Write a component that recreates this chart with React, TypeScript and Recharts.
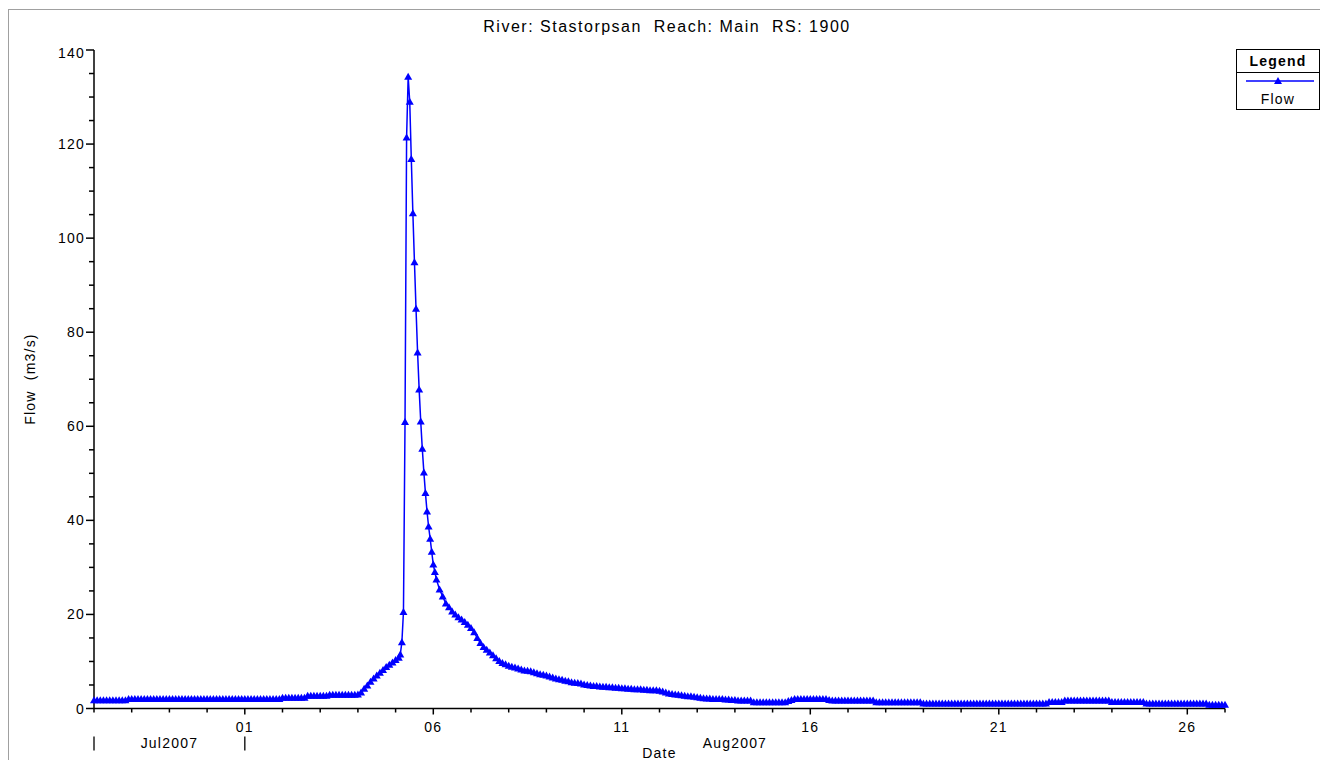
import React from 'react'
import { LineChart, Line, XAxis, YAxis, Legend } from 'recharts'

// Flow at RS 1900, hours counted from 28 Jul 2007 00:00
// every 2 h, 28 Jul 00:00 -> 5 Aug 02:00
const riseFlow = [
    1.75, 1.75, 1.75, 1.75, 1.75, 1.75, 1.75, 1.75, 1.75, 1.75, 1.75, 2.0,
    2.0, 2.0, 2.0, 2.0, 2.0, 2.0, 2.0, 2.0, 2.0, 2.0, 2.0, 2.0,
    2.0, 2.0, 2.0, 2.0, 2.0, 2.0, 2.0, 2.0, 2.0, 2.0, 2.0, 2.0,
    2.0, 2.0, 2.0, 2.0, 2.0, 2.0, 2.0, 2.0, 2.0, 2.0, 2.0, 2.0,
    2.0, 2.0, 2.0, 2.0, 2.0, 2.0, 2.0, 2.0, 2.0, 2.0, 2.0, 2.0,
    2.3, 2.3, 2.3, 2.3, 2.3, 2.3, 2.3, 2.3, 2.7, 2.7, 2.7, 2.7,
    2.7, 2.7, 2.7, 2.9, 2.9, 2.9, 2.9, 2.9, 2.9, 2.9, 2.9, 2.9,
    3.0, 3.4, 4.2, 4.9, 5.7, 6.4, 7.0, 7.6, 8.2, 8.8, 9.3, 9.8,
    10.3, 10.8,
]

// hourly, 5 Aug 03:00 -> 6 Aug 01:00
const peakFlow = [
    11.5, 14.1, 20.5, 60.9, 121.4, 134.3, 129.0, 116.8, 105.3, 94.9, 85.0, 75.7,
    67.8, 61.0, 55.2, 50.2, 45.8, 41.9, 38.7, 36.1, 33.3, 30.6, 29.0,
]

// every 2 h, 6 Aug 02:00 -> 27 Aug 00:00
const recessionFlow = [
    27.4, 25.3, 23.8, 22.3, 21.5, 20.6, 20.0, 19.4, 18.9, 18.4, 17.8,
    17.1, 16.2, 15.0, 13.9, 13.1, 12.5, 11.9, 11.3, 10.7, 10.1, 9.7, 9.4,
    9.1, 8.9, 8.7, 8.5, 8.3, 8.1, 8.0, 7.9, 7.7, 7.5, 7.3, 7.2,
    7.0, 6.8, 6.6, 6.4, 6.2, 6.1, 5.9, 5.8, 5.6, 5.5, 5.4, 5.3,
    5.1, 5.0, 4.9, 4.8, 4.8, 4.7, 4.6, 4.6, 4.5, 4.5, 4.4, 4.4,
    4.3, 4.3, 4.2, 4.2, 4.1, 4.1, 4.1, 4.0, 4.0, 3.9, 3.9, 3.9,
    3.8, 3.6, 3.4, 3.2, 3.1, 3.0, 2.9, 2.8, 2.7, 2.6, 2.6, 2.5,
    2.4, 2.3, 2.2, 2.1, 2.1, 2.0, 2.0, 2.0, 2.0, 1.9, 1.9, 1.8,
    1.8, 1.7, 1.7, 1.7, 1.7, 1.7, 1.35, 1.35, 1.35, 1.35, 1.35, 1.35,
    1.35, 1.35, 1.35, 1.35, 1.35, 1.6, 1.8, 2.0, 2.0, 2.0, 2.0, 2.0,
    2.0, 2.0, 2.0, 2.0, 2.0, 2.0, 1.8, 1.7, 1.7, 1.7, 1.7, 1.7,
    1.7, 1.7, 1.7, 1.7, 1.7, 1.7, 1.7, 1.7, 1.7, 1.35, 1.35, 1.35,
    1.35, 1.35, 1.35, 1.35, 1.35, 1.35, 1.35, 1.35, 1.35, 1.35, 1.35, 1.35,
    1.05, 1.05, 1.05, 1.05, 1.05, 1.05, 1.05, 1.05, 1.05, 1.05, 1.05, 1.05,
    1.05, 1.05, 1.05, 1.05, 1.05, 1.05, 1.05, 1.05, 1.05, 1.05, 1.05, 1.05,
    1.05, 1.05, 1.05, 1.05, 1.05, 1.05, 1.05, 1.05, 1.05, 1.05, 1.05, 1.05,
    1.05, 1.05, 1.05, 1.05, 1.4, 1.4, 1.4, 1.4, 1.4, 1.7, 1.7, 1.7,
    1.7, 1.7, 1.7, 1.7, 1.7, 1.7, 1.7, 1.7, 1.7, 1.7, 1.7, 1.7,
    1.4, 1.4, 1.4, 1.4, 1.4, 1.4, 1.4, 1.4, 1.4, 1.4, 1.4, 1.05,
    1.05, 1.05, 1.05, 1.05, 1.05, 1.05, 1.05, 1.05, 1.05, 1.05, 1.05, 1.05,
    1.05, 1.05, 1.05, 1.05, 1.05, 1.05, 1.05, 0.8, 0.8, 0.8, 0.8, 0.8,
    0.8,
]

// one tick per day
const xTicks = [
    0, 24, 48, 72, 96, 120, 144, 168, 192, 216, 240, 264, 288, 312, 336, 360,
    384, 408, 432, 456, 480, 504, 528, 552, 576, 600, 624, 648, 672, 696, 720,
]
const dayLabels: Record<number, string> = { 96: '01', 216: '06', 336: '11', 456: '16', 576: '21', 696: '26' }
const monthLabels: Record<number, string> = { 48: 'Jul2007', 408: 'Aug2007' }
const monthBreaks = [0, 96]
const yTicks = [0, 5, 10, 15, 20, 25, 30, 35, 40, 45, 50, 55, 60, 65, 70, 75, 80, 85, 90, 95, 100, 105, 110, 115, 120, 125, 130, 135, 140]

const data = [
    ...riseFlow.map((flow, i) => ({ hour: i * 2, flow })),
    ...peakFlow.map((flow, i) => ({ hour: 195 + i, flow })),
    ...recessionFlow.map((flow, i) => ({ hour: 218 + i * 2, flow })),
]

const FONT = '"Liberation Sans", Arial, sans-serif'
const BLUE = '#0000ff'

const Triangle = (props: any) => {
    const { cx, cy, index } = props
    if (cx == null || cy == null) return null
    return <path key={`t-${index}`} d={`M${cx},${cy - 4}L${cx + 4},${cy + 3}L${cx - 4},${cy + 3}Z`} fill={BLUE} />
}

const XTick = (props: any) => {
    const { x, y, payload } = props
    const h = payload.value
    const day = dayLabels[h]
    const month = monthLabels[h]
    return (
        <g fontFamily={FONT} fontSize={14} fill="#000" style={{ letterSpacing: 1.2 }}>
            <line x1={x} x2={x} y1={y} y2={y + (day ? 6 : 4)} stroke="#000" strokeWidth={1.5} />
            {day && <text x={x} y={y + 23} textAnchor="middle">{day}</text>}
            {monthBreaks.includes(h) && <line x1={x} x2={x} y1={y + 28} y2={y + 42} stroke="#222" strokeWidth={1.5} />}
            {month && <text x={x} y={y + 39} textAnchor="middle">{month}</text>}
            {h === 360 && <text x={x} y={y + 49.5} textAnchor="middle">Date</text>}
        </g>
    )
}

const YTick = (props: any) => {
    const { x, y, payload } = props
    const major = payload.value % 20 === 0
    return (
        <g>
            <line x1={x - (major ? 8 : 5)} x2={x} y1={y} y2={y} stroke="#000" strokeWidth={1.5} />
            {major && (
                <text x={x - 9} y={y + (payload.value === 140 ? 8 : 5)} textAnchor="end" fontFamily={FONT} fontSize={14} fill="#000" style={{ letterSpacing: 1.2 }}>
                    {payload.value}
                </text>
            )}
        </g>
    )
}

const LegendBox = () => (
    <div style={{ width: 84, border: '1px solid #000', boxSizing: 'border-box', background: '#fff', fontFamily: FONT, color: '#000' }}>
        <div style={{ height: 22, lineHeight: '22px', borderBottom: '1px solid #000', textAlign: 'center', fontWeight: 'bold', fontSize: 14, letterSpacing: 1.2 }}>Legend</div>
        <svg width={82} height={16} style={{ display: 'block' }}>
            <line x1={9} x2={77} y1={8} y2={8} stroke={BLUE} strokeWidth={1.5} />
            <path d="M41,4L45,11L37,11Z" fill={BLUE} />
        </svg>
        <div style={{ height: 20, lineHeight: '20px', textAlign: 'center', fontSize: 14, letterSpacing: 1.2 }}>Flow</div>
    </div>
)

export default function App() {
    return (
        <div style={{ position: 'absolute', left: 0, top: 0, width: 1320, height: 760, overflow: 'hidden', background: '#fff' }}>
            <div style={{ position: 'absolute', left: 8, top: 9, width: 1400, height: 800, borderTop: '1px solid #a0a0a0', borderLeft: '1px solid #a0a0a0' }} />
            <div style={{ position: 'absolute', left: 667, top: 19, transform: 'translateX(-50%)', whiteSpace: 'pre', fontFamily: FONT, fontSize: 16, lineHeight: '16px', letterSpacing: 1.5, color: '#000' }}>
                {'River: Stastorpsan  Reach: Main  RS: 1900'}
            </div>
            <div style={{ position: 'absolute', left: 30, top: 379, transform: 'translate(-50%, -50%) rotate(-90deg)', whiteSpace: 'pre', fontFamily: FONT, fontSize: 14, letterSpacing: 1.2, color: '#000' }}>
                {'Flow  (m3/s)'}
            </div>
            <LineChart width={1320} height={760} data={data} margin={{ top: 50, right: 95, bottom: 0.5, left: 14 }}>
                <XAxis
                    dataKey="hour"
                    type="number"
                    domain={[0, 720]}
                    ticks={xTicks}
                    interval={0}
                    height={51}
                    tickSize={0}
                    tickMargin={0}
                    tickLine={false}
                    tick={<XTick />}
                    axisLine={{ stroke: '#000', strokeWidth: 1.5 }}
                />
                <YAxis
                    type="number"
                    domain={[0, 140]}
                    ticks={yTicks}
                    interval={0}
                    width={80}
                    tickSize={0}
                    tickMargin={0}
                    tickLine={false}
                    tick={<YTick />}
                    axisLine={{ stroke: '#000', strokeWidth: 1.5 }}
                />
                <Legend
                    layout="horizontal"
                    verticalAlign="middle"
                    align="center"
                    wrapperStyle={{ position: 'absolute', left: 1236, top: 49, width: 84 }}
                    content={() => <LegendBox />}
                />
                <Line
                    type="linear"
                    dataKey="flow"
                    name="Flow"
                    stroke={BLUE}
                    strokeWidth={1.5}
                    dot={<Triangle />}
                    activeDot={false}
                    isAnimationActive={false}
                />
            </LineChart>
        </div>
    )
}
